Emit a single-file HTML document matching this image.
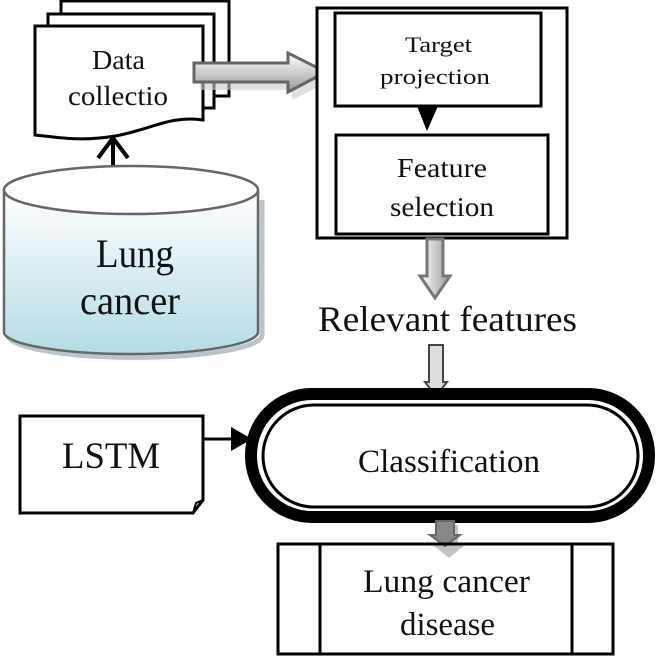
<!DOCTYPE html>
<html><head><style>
html,body{margin:0;padding:0;background:#fff;}
svg text{font-family:"Liberation Serif","Times New Roman",serif;fill:#111;}
</style></head><body>
<svg width="667" height="661" viewBox="0 0 667 661" xmlns="http://www.w3.org/2000/svg">
<defs>
<linearGradient id="cyl" x1="0" y1="0" x2="0" y2="1">
<stop offset="0" stop-color="#ffffff"/><stop offset="1" stop-color="#b3dce6"/>
</linearGradient>
<linearGradient id="arr" x1="0" y1="0" x2="0" y2="1">
<stop offset="0" stop-color="#ffffff"/><stop offset="1" stop-color="#9a9a9a"/>
</linearGradient>
<linearGradient id="varr" x1="0" y1="0" x2="1" y2="0">
<stop offset="0" stop-color="#ffffff"/><stop offset="1" stop-color="#999"/>
</linearGradient>
</defs>
<rect x="61" y="1" width="168" height="95" fill="#fff" stroke="#000" stroke-width="3"/>
<rect x="48" y="14" width="166" height="94" fill="#fff" stroke="#000" stroke-width="3"/>
<path d="M35 26 H203 V120 C170 115 150 130 115 136 C80 142 55 137 35 135 Z" fill="#fff" stroke="#000" stroke-width="3"/>
<text x="92" y="69" font-size="27" textLength="53" lengthAdjust="spacingAndGlyphs">Data</text>
<text x="68" y="105" font-size="27" textLength="100" lengthAdjust="spacingAndGlyphs">collectio</text>
<path d="M200 72 H292 V60 L332 80 L292 100 V90 H200 Z" fill="#ccc" opacity="0.6"/>
<path d="M194 63 H288 V53 L326 72 L288 92 V82 H194 Z" fill="url(#arr)" stroke="#666" stroke-width="3"/>
<path d="M113 166 V137 M98 158 L113 138 L128 158" fill="none" stroke="#000" stroke-width="4"/>
<path d="M8 193 V335 A125 22 0 0 0 262 335 V200" fill="none" stroke="#8a9fa6" stroke-width="5" opacity="0.6"/>
<path d="M4 190 V332 A127 22 0 0 0 258 332 V190" fill="url(#cyl)" stroke="#666" stroke-width="2.5"/>
<ellipse cx="131" cy="190" rx="127" ry="24" fill="#fff" stroke="#666" stroke-width="2.5"/>
<text x="96" y="267" font-size="40" textLength="78" lengthAdjust="spacingAndGlyphs">Lung</text>
<text x="80" y="314" font-size="40" textLength="100" lengthAdjust="spacingAndGlyphs">cancer</text>
<rect x="317" y="8" width="250" height="230" fill="#fff" stroke="#000" stroke-width="3"/>
<rect x="335" y="13" width="206" height="93" fill="#fff" stroke="#000" stroke-width="3"/>
<text x="405" y="52" font-size="22" textLength="67" lengthAdjust="spacingAndGlyphs">Target</text>
<text x="380" y="84" font-size="22" textLength="110" lengthAdjust="spacingAndGlyphs">projection</text>
<path d="M417 106 H438 L427 131 Z" fill="#000"/>
<rect x="336" y="135" width="212" height="99" fill="#fff" stroke="#000" stroke-width="3"/>
<text x="397" y="177" font-size="27" textLength="90" lengthAdjust="spacingAndGlyphs">Feature</text>
<text x="390" y="216" font-size="27" textLength="104" lengthAdjust="spacingAndGlyphs">selection</text>
<path d="M427 239 V276 H420 L435 298 L450 276 H443 V239 Z" fill="url(#varr)" stroke="#777" stroke-width="3"/>
<text x="318" y="331" font-size="36" textLength="259" lengthAdjust="spacingAndGlyphs">Relevant features</text>
<path d="M429 345 V382 H425 L436 396 L447 382 H443 V345 Z" fill="#ddd" stroke="#444" stroke-width="2"/>
<rect x="251" y="394" width="398" height="123" rx="61" fill="#fff" stroke="#000" stroke-width="12"/>
<rect x="263" y="405" width="375" height="102" rx="51" fill="#fff" stroke="#000" stroke-width="3"/>
<text x="358" y="472" font-size="33" textLength="182" lengthAdjust="spacingAndGlyphs">Classification</text>
<path d="M20 416 H203 V500 L193 513 H20 Z" fill="#fff" stroke="#000" stroke-width="3"/>
<path d="M193 513 L196 503 L203 500" fill="none" stroke="#000" stroke-width="2"/>
<text x="62" y="468" font-size="37" textLength="98" lengthAdjust="spacingAndGlyphs">LSTM</text>
<path d="M203 439 H234" stroke="#000" stroke-width="3"/>
<path d="M231 427 L252 439 L231 451 Z" fill="#000"/>
<path d="M440 525 V545 H433 L449 558 L465 545 H458 V525 Z" fill="#aaa" opacity="0.7"/>
<path d="M436 521 V535 H430 L445 546 L460 535 H454 V521 Z" fill="#888" stroke="#666" stroke-width="2"/>
<rect x="278" y="544" width="335" height="110" fill="none" stroke="#000" stroke-width="3"/>
<line x1="320" y1="544" x2="320" y2="654" stroke="#000" stroke-width="3"/>
<line x1="572" y1="544" x2="572" y2="654" stroke="#000" stroke-width="3"/>
<text x="363" y="592" font-size="33" textLength="167" lengthAdjust="spacingAndGlyphs">Lung cancer</text>
<text x="400" y="635" font-size="33" textLength="95" lengthAdjust="spacingAndGlyphs">disease</text>
</svg>
</body></html>
